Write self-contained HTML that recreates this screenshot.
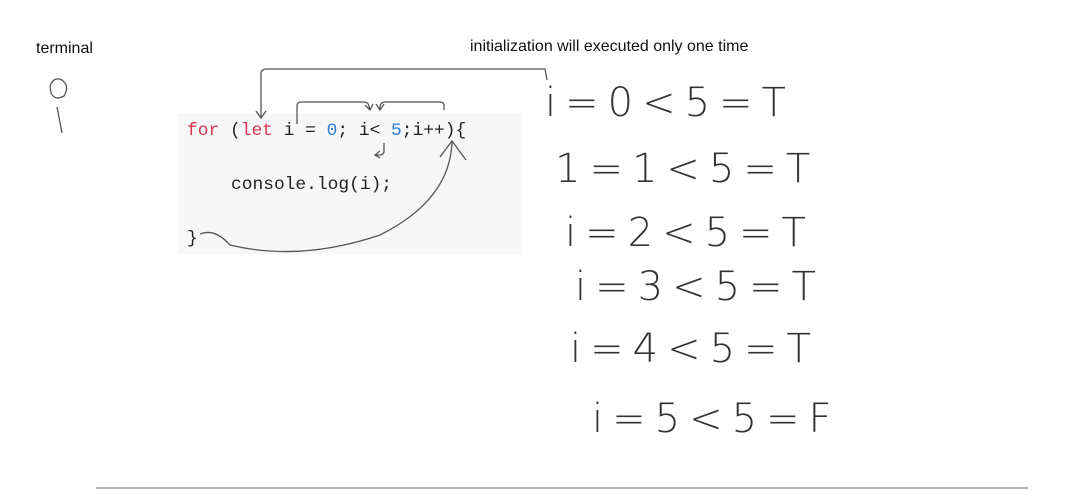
<!DOCTYPE html>
<html><head><meta charset="utf-8"><style>
body{margin:0;width:1078px;height:497px;background:#fff;position:relative;overflow:hidden;font-family:"Liberation Sans",sans-serif}
.t{position:absolute;white-space:pre}
.code{position:absolute;left:178px;top:113px;width:344px;height:141px;background:#f7f7f7}
.m{font-family:"Liberation Mono",monospace;font-size:17.9px;color:#222}
.h{font-family:"DejaVu Sans","Liberation Sans",sans-serif;font-weight:200;font-size:40px;color:#333;letter-spacing:9px}
</style></head><body>
<div class="t" style="left:36px;top:40px;font-size:16px;color:#111">terminal</div>
<div class="t" style="left:470px;top:38px;font-size:16px;color:#111">initialization will executed only one time</div>
<div class="code"></div>
<div class="t m" style="left:187px;top:121px"><span style="color:#d8344f">for</span> (<span style="color:#d8344f">let</span> i = <span style="color:#2a7fd4">0</span>; i&lt; <span style="color:#2a7fd4">5</span>;i++){</div>
<div class="t m" style="left:231px;top:175px">console.log(i);</div>
<div class="t m" style="left:187px;top:229px">}</div>
<svg width="1078" height="497" style="position:absolute;left:0;top:0" fill="none" stroke="#555" stroke-width="1.3">
<path d="M547 80 L545 69 L266 69 Q261 69 261 74 L261 118"/><path d="M256 111 L261 118 L266 111"/>
<path d="M297 124 L297 106 Q297 102 301 102 L364 102 Q368 102 369 106 L370 110"/><path d="M365 105 L370 110 L373 104"/>
<path d="M444 110 L444 106 Q444 102 440 102 L385 102 Q381 102 380 106 L380 110"/><path d="M376 104 L380 110 L384 104"/>
<path d="M384 143 L384 151 Q384 155 379 155 L376 155"/><path d="M380 151 L375 155 L380 158"/>
<path d="M200 234 Q215 228 230 245 Q300 262 380 235 Q450 200 452 142"/>
<path d="M440 157 L452 141 L466 160"/>
<path d="M50 86 Q54 76 62 80 Q70 86 64 96 Q55 101 51 93 Z"/><path d="M57 107 L62 133"/>
<path d="M96 488 L1028 488" stroke="#888"/>
</svg>
<div class="t h" style="left:545px;top:80px">i=0&lt;5=T</div>
<div class="t h" style="left:555px;top:146px">1=1&lt;5=T</div>
<div class="t h" style="left:565px;top:210px">i=2&lt;5=T</div>
<div class="t h" style="left:575px;top:264px">i=3&lt;5=T</div>
<div class="t h" style="left:570px;top:326px">i=4&lt;5=T</div>
<div class="t h" style="left:592px;top:396px">i=5&lt;5=F</div>
</body></html>
